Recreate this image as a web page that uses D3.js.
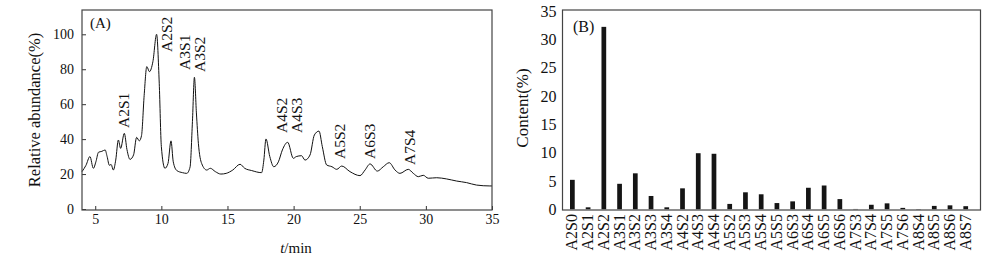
<!DOCTYPE html>
<html>
<head>
<meta charset="utf-8">
<script src="https://cdn.jsdelivr.net/npm/d3@7"></script>
<style>
  body { margin: 0; background: #fff; }
  text { font-family: "Liberation Serif", "Times New Roman", serif; fill: #111; }
</style>
</head>
<body>
<svg width="1000" height="263"></svg>
<script>
// (A) chromatogram
const times = [4.0, 4.3, 4.6, 4.86, 5.05, 5.25, 5.5, 5.75, 5.9, 6.07, 6.2, 6.37, 6.55, 6.75, 6.92, 7.2, 7.4, 7.63, 7.9, 8.13,
  8.33, 8.5, 8.7, 8.9, 9.1, 9.36, 9.64, 9.84, 10.0, 10.27, 10.5, 10.73, 10.9, 11.17, 11.6, 11.92, 12.17, 12.35, 12.5, 12.65,
  12.8, 13.05, 13.43, 13.7, 14.08, 14.5, 14.9, 15.4, 15.95, 16.3, 16.83, 17.58, 17.75, 17.91, 18.2, 18.5, 18.85, 19.15, 19.55, 19.98,
  20.2, 20.6, 20.86, 21.24, 21.57, 21.92, 22.17, 22.5, 22.9, 23.26, 23.64, 24.26, 25.02, 25.4, 25.78, 26.33, 26.78, 27.23, 27.67, 28.04,
  28.67, 29.05, 29.43, 29.8, 30.18, 30.82, 31.57, 32.33, 33.08, 33.83, 34.84, 35.0];
const abundance = [21.4, 25, 30, 23.3, 27, 32.5, 33, 33.8, 30, 25, 25.5, 22.3, 28, 39.5, 34.7, 43.3, 34, 28.4, 31, 41,
  39, 42, 65, 81.5, 78.6, 84.3, 100, 72, 35.7, 23.3, 26, 39, 27, 22, 20.8, 20.4, 24, 50, 75.4, 55,
  37.6, 26, 22.3, 23.3, 21.4, 20, 20.4, 22.3, 25.6, 23.3, 22, 20.8, 28, 40.1, 30, 24.2, 27, 33.8, 38.2, 29,
  30, 30.5, 28, 30.9, 42.4, 44.6, 35.7, 25.2, 24.2, 22.7, 24.6, 21.4, 19.1, 22.3, 25.8, 21.7, 24.2, 26.5, 22.3, 20.4,
  22.7, 20.4, 18.5, 19.3, 17.6, 17.9, 17.2, 16.0, 15.1, 13.7, 13.2, 13.2];

const peakNames = ["A2S1", "A2S2", "A3S1", "A3S2", "A4S2", "A4S3", "A5S2", "A6S3", "A7S4"];
const peakTimes = [7.14, 10.43, 11.79, 12.92, 19.1, 20.23, 23.5, 25.77, 28.8];
const peakLevels = [46.4, 89.9, 79.6, 78.4, 43.5, 43.5, 28.6, 28.6, 25.2];

const xTicksA = [5, 10, 15, 20, 25, 30, 35];
const yTicksA = [0, 20, 40, 60, 80, 100];

// (B) content of each oligomer
const oligomers = ["A2S0", "A2S1", "A2S2", "A3S1", "A3S2", "A3S3", "A3S4", "A4S2", "A4S3", "A4S4", "A5S2", "A5S3", "A5S4",
  "A5S5", "A6S3", "A6S4", "A6S5", "A6S6", "A7S3", "A7S4", "A7S5", "A7S6", "A8S4", "A8S5", "A8S6", "A8S7"];
const content = [5.2, 0.35, 32.2, 4.5, 6.35, 2.35, 0.35, 3.7, 9.9, 9.8, 0.95, 3.0, 2.65,
  1.1, 1.4, 3.8, 4.2, 1.8, 0.06, 0.8, 1.05, 0.25, 0.05, 0.6, 0.7, 0.55];
const yTicksB = [0, 5, 10, 15, 20, 25, 30, 35];

const svg = d3.select("svg");

// ---------- panel A ----------
const xA = d3.scaleLinear().domain([4, 35]).range([82, 492]);
const yA = d3.scaleLinear().domain([0, 100]).range([209, 34.3]);
const topA = 10, botA = 210;

const gA = svg.append("g");

gA.append("path")
  .datum(times.map((t, i) => [t, abundance[i]]))
  .attr("fill", "none")
  .attr("stroke", "#111")
  .attr("stroke-width", 1)
  .attr("d", d3.line().x(d => xA(d[0])).y(d => yA(d[1])).curve(d3.curveMonotoneX));

gA.append("g")
  .attr("transform", `translate(0,${botA})`)
  .call(d3.axisBottom(xA).tickValues(xTicksA).tickSizeInner(-4).tickSizeOuter(0).tickPadding(4))
  .call(g => g.select(".domain").remove())
  .call(g => g.selectAll("line").attr("stroke", "#333"))
  .call(g => g.selectAll("text").attr("font-size", 14).attr("fill", "#111"));

gA.append("g")
  .attr("transform", "translate(82,0)")
  .call(d3.axisLeft(yA).tickValues(yTicksA).tickSizeInner(-4).tickSizeOuter(0).tickPadding(8))
  .call(g => g.select(".domain").remove())
  .call(g => g.selectAll("line").attr("stroke", "#333"))
  .call(g => g.selectAll("text").attr("font-size", 14).attr("fill", "#111"));

gA.append("rect")
  .attr("x", 82).attr("y", topA)
  .attr("width", 410).attr("height", botA - topA)
  .attr("fill", "none").attr("stroke", "#444").attr("stroke-width", 1.2);

gA.selectAll(".peak")
  .data(peakNames)
  .join("text")
    .attr("class", "peak")
    .attr("transform", (d, i) => `translate(${xA(peakTimes[i]) + 5},${yA(peakLevels[i])}) rotate(-90)`)
    .attr("font-size", 15.5)
    .text(d => d);

gA.append("text").attr("x", 90).attr("y", 28).attr("font-size", 15).text("(A)");

gA.append("text")
  .attr("transform", "translate(40,110) rotate(-90)")
  .attr("text-anchor", "middle")
  .attr("font-size", 16.5)
  .text("Relative abundance(%)");

const xlab = gA.append("text").attr("x", 296).attr("y", 253).attr("text-anchor", "middle").attr("font-size", 15);
xlab.append("tspan").attr("font-style", "italic").text("t");
xlab.append("tspan").text("/min");

// ---------- panel B ----------
const xB = d3.scaleBand().domain(oligomers).range([564.5, 973.6]).paddingInner(0.7).paddingOuter(0.35);
const yB = d3.scaleLinear().domain([0, 35]).range([209.3, 11]);
const leftB = 562.5, rightB = 980.5;

const gB = svg.append("g");

gB.selectAll("rect.bar")
  .data(oligomers)
  .join("rect")
    .attr("class", "bar")
    .attr("x", d => xB(d))
    .attr("width", xB.bandwidth())
    .attr("y", (d, i) => yB(content[i]))
    .attr("height", (d, i) => yB(0) - yB(content[i]))
    .attr("fill", "#151515");

gB.append("g")
  .attr("transform", `translate(${leftB},0)`)
  .call(d3.axisLeft(yB).tickValues(yTicksB).tickSize(0).tickPadding(6))
  .call(g => g.select(".domain").remove())
  .call(g => g.selectAll("text").attr("font-size", 16).attr("fill", "#111"));

gB.selectAll(".xlab")
  .data(oligomers)
  .join("text")
    .attr("class", "xlab")
    .attr("transform", d => `translate(${xB(d) + xB.bandwidth() / 2 + 5},214) rotate(-90)`)
    .attr("text-anchor", "end")
    .attr("font-size", 16)
    .text(d => d);

gB.append("rect")
  .attr("x", leftB).attr("y", 10)
  .attr("width", rightB - leftB).attr("height", 200)
  .attr("fill", "none").attr("stroke", "#444").attr("stroke-width", 1.2);

gB.append("text").attr("x", 573).attr("y", 32).attr("font-size", 16).text("(B)");

gB.append("text")
  .attr("transform", "translate(528,108) rotate(-90)")
  .attr("text-anchor", "middle")
  .attr("font-size", 17)
  .text("Content(%)");
</script>
</body>
</html>
